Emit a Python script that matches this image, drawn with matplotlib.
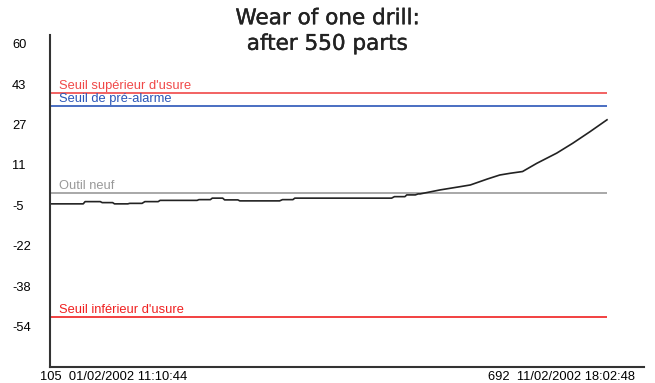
import numpy as np
import matplotlib
matplotlib.use("Agg")
import matplotlib.pyplot as plt
import matplotlib.patheffects as pe

plt.rcParams['font.family'] = ['Liberation Sans', 'DejaVu Sans']

# Wear curve: part number vs measured wear
parts = [105, 140, 142, 158, 160, 171, 173, 187, 189, 202, 205, 219, 221, 260,
         262, 274, 276, 287, 289, 303, 305, 347, 350, 361, 363, 465, 468, 479,
         481, 490, 493, 495, 516, 537, 548, 566, 579, 590, 603, 618, 639, 656,
         674, 692]
wear = [-4.4, -4.4, -3.5, -3.5, -3.9, -3.9, -4.4, -4.4, -4.2, -4.2, -3.5, -3.5,
        -3.0, -3.0, -2.7, -2.7, -2.1, -2.1, -2.8, -2.8, -3.2, -3.2, -2.7, -2.7,
        -2.1, -2.1, -1.5, -1.5, -0.8, -0.8, -0.4, -0.4, 1.2, 2.5, 3.2, 5.6,
        7.2, 7.9, 8.6, 11.9, 16.0, 20.0, 24.6, 29.4]

# Threshold lines
thresholds = [40, 35, 0, -50]
threshold_names = ["Seuil supérieur d'usure", "Seuil de pré-alarme",
                   "Outil neuf", "Seuil inférieur d'usure"]
threshold_colors = ['#f04848', '#2a55b8', '#999999', '#f02020']

ytick_labels = ['60', '43', '27', '11', '-5', '-22', '-38', '-54']
start_label = "105  01/02/2002 11:10:44"
end_label = "692  11/02/2002 18:02:48"

small = 9.3

fig = plt.figure(figsize=(6.55, 3.83), dpi=100)
ax = fig.add_axes([50/655, 1 - 367/383, 594/655, 332/383])

for val, name, col in zip(thresholds, threshold_names, threshold_colors):
    ax.hlines(val, parts[0], parts[-1], color=col, lw=1.2)
    ax.annotate(name, (parts[0], val), xytext=(6.7, 0.8), textcoords='offset points',
                color=col, fontsize=small, va='bottom', ha='left')

ax.plot(parts, wear, color='#222222', lw=1.2)

ax.set_xlim(105, 731)
ax.set_ylim(-70, 63.5)
ax.set_yticks(np.linspace(60, -53.75, 8))
ax.set_yticklabels(ytick_labels, fontsize=small)
ax.tick_params(axis='y', length=0, pad=27.4)
for t in ax.get_yticklabels():
    t.set_horizontalalignment('left')
ax.set_xticks([])

for s in ['top', 'right']:
    ax.spines[s].set_visible(False)
for s in ['left', 'bottom']:
    ax.spines[s].set_color('#333333')
    ax.spines[s].set_linewidth(1.5)

fig.text(40/655, 1 - 377/383, start_label, fontsize=small, ha='left', va='center')
fig.text(635/655, 1 - 377/383, end_label, fontsize=small, ha='right', va='center')

fig.text(0.5, 1 - 31/383, "Wear of one drill:\nafter 550 parts", fontsize=15.5,
         family='DejaVu Sans', ha='center', va='center', color='#222222',
         linespacing=1.35,
         path_effects=[pe.withStroke(linewidth=0.3, foreground='#222222')])

fig.savefig("out.png", dpi=100)
